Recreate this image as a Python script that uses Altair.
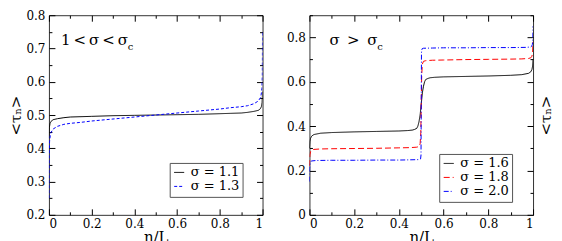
import altair as alt
import pandas as pd

# ---------------- data ----------------
left_labels = ["σ = 1.1", "σ = 1.3"]
right_labels = ["σ = 1.6", "σ = 1.8", "σ = 2.0"]

x_s11 = [0, 0.002, 0.005, 0.01, 0.02, 0.04, 0.07, 0.1, 0.15, 0.2, 0.3, 0.4, 0.5,
         0.6, 0.7, 0.8, 0.85, 0.9, 0.93, 0.96, 0.98, 0.99, 0.995, 0.998, 1.0]
y_s11 = [0.43, 0.462, 0.474, 0.481, 0.486, 0.489, 0.492, 0.494, 0.495, 0.496, 0.498, 0.499, 0.5,
         0.501, 0.502, 0.504, 0.505, 0.506, 0.508, 0.511, 0.514, 0.519, 0.526, 0.538, 0.57]

x_s13 = [0, 0.001, 0.003, 0.006, 0.01, 0.02, 0.04, 0.07, 0.1, 0.15, 0.2, 0.3, 0.4, 0.5,
         0.6, 0.7, 0.8, 0.85, 0.9, 0.93, 0.96, 0.98, 0.99, 0.994, 0.997, 0.999, 1.0]
y_s13 = [0.25, 0.38, 0.42, 0.437, 0.448, 0.458, 0.466, 0.472, 0.475, 0.478, 0.482, 0.488, 0.494, 0.5,
         0.506, 0.512, 0.518, 0.522, 0.525, 0.528, 0.534, 0.542, 0.552, 0.563, 0.58, 0.62, 0.75]

x_s16 = [0, 0.002, 0.005, 0.01, 0.02, 0.05, 0.1, 0.2, 0.3, 0.4, 0.44, 0.46, 0.47, 0.48, 0.485,
         0.49, 0.495, 0.5, 0.505, 0.51, 0.515, 0.52, 0.53, 0.54, 0.56, 0.6, 0.7, 0.8, 0.9, 0.95,
         0.98, 0.99, 0.995, 0.998, 1.0]
y_s16 = [0.30, 0.33, 0.345, 0.355, 0.362, 0.368, 0.371, 0.374, 0.376, 0.378, 0.380, 0.382, 0.385, 0.39, 0.40,
         0.42, 0.45, 0.50, 0.55, 0.58, 0.60, 0.61, 0.615, 0.618, 0.62, 0.622, 0.624, 0.626, 0.629, 0.632,
         0.638, 0.645, 0.655, 0.67, 0.70]

x_s18 = [0, 0.002, 0.005, 0.01, 0.02, 0.05, 0.1, 0.2, 0.3, 0.4, 0.45, 0.48, 0.49, 0.495, 0.498,
         0.5, 0.502, 0.505, 0.51, 0.52, 0.55, 0.6, 0.7, 0.8, 0.9, 0.95, 0.98, 0.99, 0.995, 0.998, 1.0]
y_s18 = [0.22, 0.27, 0.285, 0.292, 0.295, 0.297, 0.298, 0.299, 0.300, 0.302, 0.303, 0.305, 0.308, 0.32, 0.37,
         0.50, 0.63, 0.68, 0.692, 0.695, 0.697, 0.698, 0.700, 0.701, 0.702, 0.703, 0.705, 0.708, 0.715, 0.73, 0.78]

x_s20 = [0, 0.001, 0.003, 0.006, 0.01, 0.03, 0.1, 0.2, 0.3, 0.4, 0.45, 0.49, 0.497, 0.499,
         0.5, 0.501, 0.503, 0.51, 0.55, 0.6, 0.7, 0.8, 0.9, 0.97, 0.99, 0.994, 0.997, 0.999, 1.0]
y_s20 = [0.15, 0.21, 0.232, 0.24, 0.243, 0.245, 0.246, 0.246, 0.247, 0.247, 0.248, 0.249, 0.252, 0.27,
         0.50, 0.73, 0.748, 0.751, 0.752, 0.753, 0.753, 0.754, 0.754, 0.755, 0.757, 0.76, 0.768, 0.79, 0.85]

x_major = [0, 0.2, 0.4, 0.6, 0.8, 1.0]
x_ticks = [0, 0.1, 0.2, 0.3, 0.4, 0.5, 0.6, 0.7, 0.8, 0.9, 1.0]
yl_major = [0.2, 0.3, 0.4, 0.5, 0.6, 0.7, 0.8]
yl_ticks = [0.2, 0.25, 0.3, 0.35, 0.4, 0.45, 0.5, 0.55, 0.6, 0.65, 0.7, 0.75, 0.8]
yr_major = [0, 0.2, 0.4, 0.6, 0.8]
yr_ticks = [0, 0.1, 0.2, 0.3, 0.4, 0.5, 0.6, 0.7, 0.8, 0.9]

left_note = "1\u2009<\u2009σ\u2009<\u2009σ"
right_note = "σ\u2002>\u2002σ"
note_sub = "c"
ytitle = "<τₙ>"
xtitle = "n/L"

FONT = "DejaVu Serif"


def frame(xs, ys, label):
    return pd.DataFrame({"x": xs, "y": ys, "s": label})


left_df = pd.concat([frame(x_s11, y_s11, left_labels[0]),
                     frame(x_s13, y_s13, left_labels[1])], ignore_index=True)
right_df = pd.concat([frame(x_s16, y_s16, right_labels[0]),
                      frame(x_s18, y_s18, right_labels[1]),
                      frame(x_s20, y_s20, right_labels[2])], ignore_index=True)


def tick_size(test):
    return {"condition": {"test": test, "value": 6}, "value": 3}


X_TEST = "abs(datum.value*5 - round(datum.value*5)) < 0.01"


def panel(df, labels, colors, dashes, ydom, ymajor, yticks, ytest, W, H,
          legx, legy, note, note_x, note_w, left_title, right_title):
    xs = alt.Scale(domain=[0, 1], nice=False, zero=False)
    ys = alt.Scale(domain=ydom, nice=False, zero=False)
    leg = alt.Legend(title=None, orient="none", legendX=legx, legendY=legy,
                     symbolType="stroke", symbolSize=100, symbolStrokeWidth=1,
                     labelFont=FONT, labelFontSize=13, labelColor="black",
                     padding=3, rowPadding=0, labelOffset=5,
                     strokeColor="#555", fillColor="white", labelLimit=0)
    color = alt.Color("s:N", scale=alt.Scale(domain=labels, range=colors), legend=leg)
    dash = alt.StrokeDash("s:N", scale=alt.Scale(domain=labels, range=dashes), legend=leg)
    tc = dict(labels=False, domain=False, grid=False, title=None, tickColor="black", tickWidth=1)

    yaxis_main = dict(orient="left", values=ymajor, format="~g", ticks=False, domain=False,
                      grid=False, labelPadding=4)
    if left_title:
        yaxis_main.update(title=left_title, titlePadding=2)
    else:
        yaxis_main.update(title=None)

    lines = alt.Chart(df).mark_line(strokeWidth=1, clip=True).encode(
        x=alt.X("x:Q", scale=xs, axis=alt.Axis(orient="bottom", values=x_major, format="~g",
                                                ticks=False, domain=False, grid=False,
                                                title=xtitle, labelPadding=4, titlePadding=0)),
        y=alt.Y("y:Q", scale=ys, axis=alt.Axis(**yaxis_main)),
        color=color, strokeDash=dash, order="x:Q")

    t1 = alt.Chart(df).mark_line(opacity=0).encode(
        x=alt.X("x:Q", scale=xs, axis=alt.Axis(orient="top", offset=-H, values=x_ticks,
                                                tickSize=tick_size(X_TEST), **tc)),
        y=alt.Y("y:Q", scale=ys, axis=alt.Axis(orient="right", offset=-W, values=yticks,
                                                tickSize=tick_size(ytest), **tc)))
    t2 = alt.Chart(df).mark_line(opacity=0).encode(
        x=alt.X("x:Q", scale=xs, axis=alt.Axis(orient="bottom", offset=-H, values=x_ticks,
                                                tickSize=tick_size(X_TEST), **tc)),
        y=alt.Y("y:Q", scale=ys, axis=alt.Axis(orient="left", offset=-W, values=yticks,
                                                tickSize=tick_size(ytest), **tc)))
    layers = [lines, t1, t2]
    if right_title:
        t3 = alt.Chart(df).mark_line(opacity=0).encode(
            x=alt.X("x:Q", scale=xs, axis=None),
            y=alt.Y("y:Q", scale=ys, axis=alt.Axis(orient="right", labels=False, ticks=False,
                                                    domain=False, grid=False, title=right_title,
                                                    titleAngle=270, titlePadding=20)))
        layers.append(t3)

    t_main = alt.Chart(pd.DataFrame({"t": [note]})).mark_text(
        align="left", baseline="alphabetic", font=FONT, fontSize=15, color="black").encode(
        text="t:N", x=alt.value(note_x), y=alt.value(30))
    t_sub = alt.Chart(pd.DataFrame({"t": [note_sub]})).mark_text(
        align="left", baseline="alphabetic", font=FONT, fontSize=10, color="black").encode(
        text="t:N", x=alt.value(note_x + 1 + note_w), y=alt.value(35))
    layers += [t_main, t_sub]

    return alt.layer(*layers).resolve_axis(x="independent", y="independent").properties(
        width=W, height=H)


H = 200
W1 = 214
W2 = 224

left = panel(left_df, left_labels, ["#000000", "#0000ff"], [[1, 0], [3, 2]],
             [0.2, 0.8], yl_major, yl_ticks,
             "abs(datum.value*10 - round(datum.value*10)) < 0.01",
             W1, H, W1 - 93, H - 52, left_note, 12, 66, ytitle, None)
right = panel(right_df, right_labels, ["#000000", "#ff0000", "#0000ff"],
              [[1, 0], [6, 3], [5, 2, 1, 2]],
              [0, 0.9], yr_major, yr_ticks,
              "abs(datum.value*5 - round(datum.value*5)) < 0.01",
              W2, H, W2 - 94, H - 61, right_note, 20, 47, None, ytitle)

chart = alt.hconcat(left, right, spacing=22).resolve_scale(
    x="independent", y="independent", color="independent", strokeDash="independent"
).properties(
    padding={"left": 0, "top": 0, "right": 0, "bottom": 0}
).configure_view(
    stroke="#333", strokeWidth=1
).configure_axis(
    labelFont=FONT, labelFontSize=12, labelColor="black",
    titleFont=FONT, titleFontSize=15, titleFontWeight="normal", titleColor="black"
)

chart.save("out.html", embed_options={"renderer": "svg", "actions": False})
